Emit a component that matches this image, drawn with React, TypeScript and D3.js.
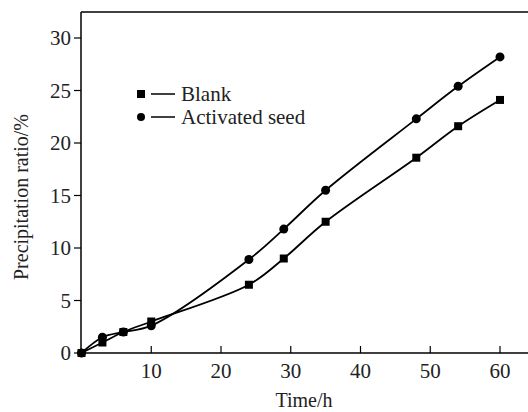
import React, { useEffect, useRef } from "react";
import * as d3 from "d3";

const times = [0, 3, 6, 10, 24, 29, 35, 48, 54, 60];
const blank = [0, 1.0, 2.0, 3.0, 6.5, 9.0, 12.5, 18.6, 21.6, 24.1];
const activated = [0, 1.5, 2.0, 2.6, 8.9, 11.8, 15.5, 22.3, 25.4, 28.2];
const xTicks = [10, 20, 30, 40, 50, 60];
const yTicks = [0, 5, 10, 15, 20, 25, 30];
const legendNames = ["Blank", "Activated seed"];

export default function App() {
  const ref = useRef<SVGSVGElement>(null);

  useEffect(() => {
    const svg = d3.select(ref.current);
    svg.selectAll("*").remove();

    const font = "'Liberation Serif', 'Times New Roman', serif";
    const x = d3.scaleLinear().domain([0, 60]).range([81.5, 500]);
    const y = d3.scaleLinear().domain([0, 30]).range([353, 38]);

    // frame: top and bottom lines run off the right edge
    svg.append("line")
      .attr("x1", 81).attr("x2", 528).attr("y1", 12).attr("y2", 12)
      .attr("stroke", "#000").attr("stroke-width", 1.5);

    // x axis, ticks pointing inside
    const gx = svg.append("g").attr("transform", "translate(0,353)");
    gx.append("line").attr("x1", 81).attr("x2", 528)
      .attr("stroke", "#000").attr("stroke-width", 1.5);
    gx.selectAll("g.t").data(xTicks).enter().append("g")
      .each(function (d) {
        const g = d3.select(this);
        g.append("line").attr("x1", x(d)).attr("x2", x(d)).attr("y1", 0).attr("y2", -7)
          .attr("stroke", "#000").attr("stroke-width", 1.2);
        g.append("text").attr("x", x(d)).attr("y", 25).attr("text-anchor", "middle")
          .attr("font-family", font).attr("font-size", 21).attr("fill", "#222").text(d);
      });

    // y axis, ticks pointing outside
    const gy = svg.append("g").attr("transform", "translate(81,0)");
    gy.append("line").attr("y1", 12).attr("y2", 353)
      .attr("stroke", "#000").attr("stroke-width", 1.5);
    gy.selectAll("g.t").data(yTicks).enter().append("g")
      .each(function (d) {
        const g = d3.select(this);
        g.append("line").attr("x1", 0).attr("x2", -7).attr("y1", y(d)).attr("y2", y(d))
          .attr("stroke", "#000").attr("stroke-width", 1.2);
        g.append("text").attr("x", -10).attr("y", y(d) + 7).attr("text-anchor", "end")
          .attr("font-family", font).attr("font-size", 21).attr("fill", "#222").text(d);
      });

    svg.append("text").attr("x", 304).attr("y", 407).attr("text-anchor", "middle")
      .attr("font-family", font).attr("font-size", 20).attr("fill", "#222").text("Time/h");
    svg.append("text").attr("transform", "translate(28,197) rotate(-90)")
      .attr("text-anchor", "middle")
      .attr("font-family", font).attr("font-size", 20).attr("fill", "#222")
      .text("Precipitation ratio/%");

    const line = d3.line<number>()
      .x((_, i) => x(times[i]))
      .y((d) => y(d))
      .curve(d3.curveCatmullRom.alpha(0.5));

    [blank, activated].forEach((s) => {
      svg.append("path").datum(s).attr("d", line)
        .attr("fill", "none").attr("stroke", "#000").attr("stroke-width", 1.8);
    });

    svg.selectAll("rect.b").data(blank).enter().append("rect")
      .attr("x", (_, i) => x(times[i]) - 4).attr("y", (d) => y(d) - 4)
      .attr("width", 8).attr("height", 8).attr("fill", "#000");
    svg.selectAll("circle.a").data(activated).enter().append("circle")
      .attr("cx", (_, i) => x(times[i])).attr("cy", (d) => y(d))
      .attr("r", 4.5).attr("fill", "#000");

    // legend
    legendNames.forEach((name, i) => {
      const ly = 94 + i * 23;
      if (i === 0) {
        svg.append("rect").attr("x", 137).attr("y", ly - 4).attr("width", 8).attr("height", 8).attr("fill", "#000");
      } else {
        svg.append("circle").attr("cx", 141).attr("cy", ly).attr("r", 4).attr("fill", "#000");
      }
      svg.append("line").attr("x1", 151).attr("x2", 175).attr("y1", ly).attr("y2", ly)
        .attr("stroke", "#000").attr("stroke-width", 1.5);
      svg.append("text").attr("x", 181).attr("y", ly + 7)
        .attr("font-family", font).attr("font-size", 21).attr("fill", "#222").text(name);
    });
  }, []);

  return (
    <svg ref={ref} width={528} height={412}
      style={{ position: "absolute", left: 0, top: 0, background: "#fff" }} />
  );
}
